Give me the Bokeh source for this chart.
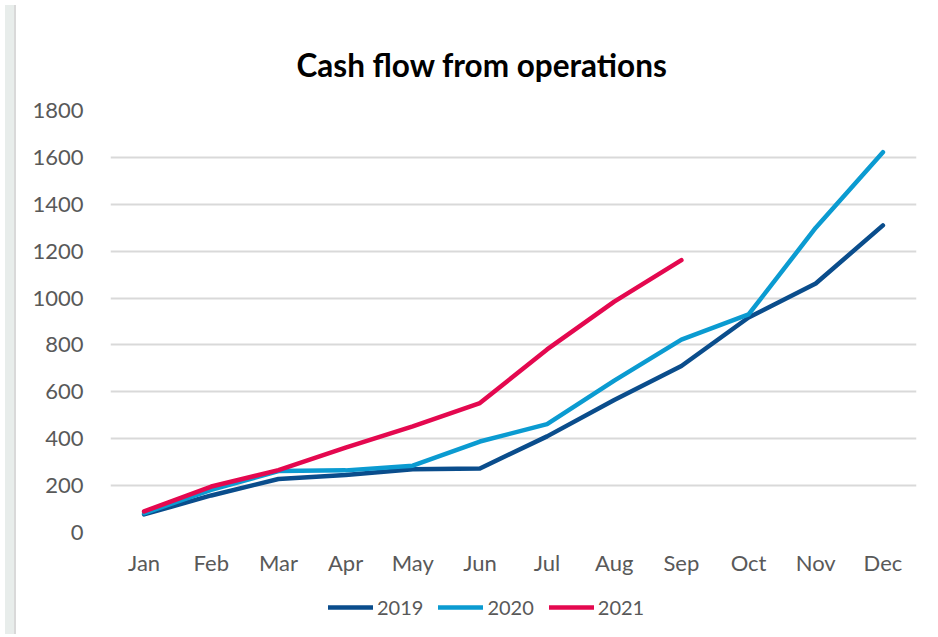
from bokeh.plotting import figure
from bokeh.models import Range1d, FactorRange, FixedTicker, Legend, LegendItem, Div, Title
from bokeh.layouts import row, column
from bokeh.embed import file_html
from bokeh.resources import INLINE

months = ["Jan", "Feb", "Mar", "Apr", "May", "Jun", "Jul", "Aug", "Sep", "Oct", "Nov", "Dec"]
cf_2019 = [77, 158, 228, 245, 270, 273, 410, 565, 710, 917, 1062, 1310]
cf_2020 = [82, 182, 262, 265, 285, 388, 462, 648, 823, 930, 1300, 1622]
cf_2021 = [90, 196, 266, 362, 453, 552, 781, 985, 1162]
series = [cf_2019, cf_2020, cf_2021]
series_names = ["2019", "2020", "2021"]
y_ticks = [0, 200, 400, 600, 800, 1000, 1200, 1400, 1600, 1800]

FONT = "Lato"
TXT = "#595959"
colors = ["#0a4d8c", "#0b9bd1", "#e4084f"]

p = figure(width=911, height=580, x_range=FactorRange(*months, range_padding=0),
           y_range=Range1d(0, 1800), output_backend="svg", toolbar_location=None,
           min_border_left=89, min_border_right=16, min_border_top=110, min_border_bottom=48)
p.title = Title(text="Cash flow from operations", align="left", offset=186,
                text_font=FONT, text_font_size="31.5px", text_font_style="bold",
                text_color="#000000", standoff=54)

p.outline_line_color = None
p.background_fill_color = "white"
p.border_fill_color = "white"

p.yaxis.ticker = FixedTicker(ticks=y_ticks)
for ax in (p.xaxis[0], p.yaxis[0]):
    ax.axis_line_color = None
    ax.major_tick_line_color = None
    ax.minor_tick_line_color = None
    ax.major_label_text_font = FONT
    ax.major_label_text_font_size = "22px"
    ax.major_label_text_color = TXT
p.yaxis.major_label_standoff = 21
p.xaxis.major_label_standoff = 10

p.xgrid.grid_line_color = None
p.ygrid.grid_line_color = "#d9d9d9"
p.ygrid.grid_line_width = 2

for vals, c in zip(series, colors):
    p.line(months[:len(vals)], vals, line_color=c, line_width=4.5,
           line_cap="round", line_join="round")

# legend strip below the chart (its lines lie outside its own visible range)
lf = figure(width=911, height=49, x_range=Range1d(0, 1), y_range=Range1d(0, 1),
            output_backend="svg", toolbar_location=None,
            min_border_left=0, min_border_right=0, min_border_top=0, min_border_bottom=0)
lf.axis.visible = False
lf.grid.visible = False
lf.outline_line_color = None
lf.border_fill_color = "white"
items = []
for n, c in zip(series_names, colors):
    r = lf.line([5, 6], [5, 6], line_color=c, line_width=4.5, line_cap="round")
    items.append(LegendItem(label=n, renderers=[r]))
legend = Legend(items=items, orientation="horizontal", location=(218, 10),
                label_text_font=FONT, label_text_font_size="20px", label_text_color=TXT,
                glyph_width=45, glyph_height=20, label_standoff=4, spacing=15,
                border_line_color=None, background_fill_alpha=0, padding=0, margin=0)
lf.add_layout(legend, "center")

strip = Div(width=11, height=629, styles={"background-color": "#e8edeb",
                                          "border-right": "2px solid #d9d9d9",
                                          "box-sizing": "border-box"})
layout = row(strip, column(p, lf, spacing=0), spacing=0)

open("out.html", "w").write(file_html(layout, INLINE))
